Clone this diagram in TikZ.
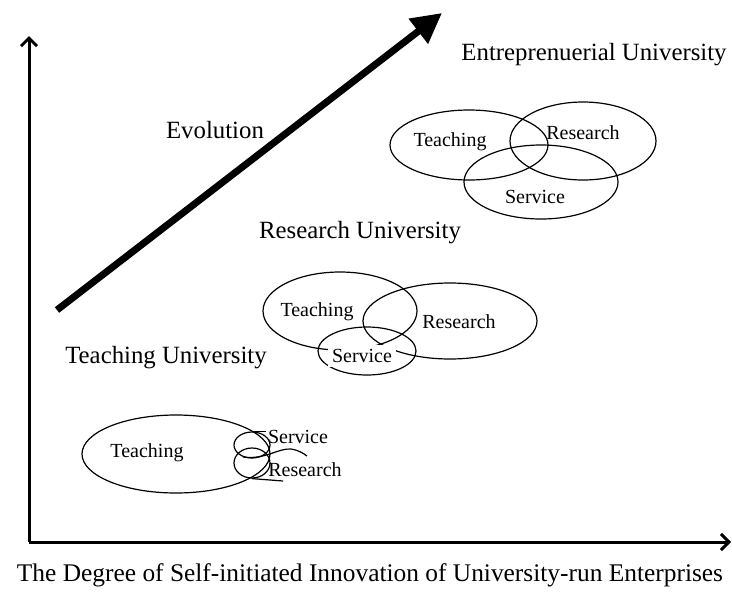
\documentclass[tikz,border=0pt]{standalone}
\usepackage{fontspec}
\setmainfont{Liberation Serif}
\usetikzlibrary{arrows.meta,shapes.geometric,positioning}
\tikzset{
  blob/.style={
    shape = ellipse,
    draw,
    line width = 0.6pt,
    inner sep = 0pt
  },
  tag/.style={
    font = \fontsize{10}{12}\selectfont,
    inner sep = 1pt
  },
  stage/.style={
    font = \fontsize{12.4}{15}\selectfont,
    inner sep = 1pt
  },
  axis/.style={
    line width = 1.5pt,
    -{Straight Barb[length=4pt,width=8pt]}
  },
  evo/.style={
    line width = 3.5pt,
    -{Triangle[length=15pt,width=15pt]}
  }
}

\begin{document}
\begin{tikzpicture}[x=0.5pt,y=-0.5pt]
    \useasboundingbox (0,0) rectangle (732,594);
    % axes
    \coordinate (o) at (29,542);
    \coordinate (ytop) at (29,36);
    \coordinate (xend) at (731,542);
    \draw[axis] (o) -- (ytop);
    \draw[axis] (o) -- (xend);
    \node[stage, font=\fontsize{12.7}{15}\selectfont] (xlab) at (370,575) {The Degree of Self-initiated Innovation of University-run Enterprises};
    % evolution arrow
    \coordinate (evoS) at (57,310);
    \coordinate (evoE) at (442,13);
    \draw[evo] (evoS) -- (evoE);
    \node[stage] (evo) at (215,130) {Evolution};
    % ellipses: name/x/y/rx/ry
    \foreach \nm/\cx/\cy/\rx/\ry in {entT/469/145/79/35, entR/583/141/73/39, entS/541/182/77/37,
        resT/340/311/77/39, resR/450/321/87/38, resS/367/351/49/24,
        tchT/176/454/94/39, tchS/252/445/18/13, tchR/252/463/18/15}{
    \node[blob, minimum width=\rx pt, minimum height=\ry pt] (\nm) at (\cx,\cy) {};}
    % entrepreneurial university
    \node[stage] (entU) at (594,55) {Entreprenuerial University};
    \node[tag] (entTl) at (450,142) {Teaching};
    \node[tag] (entRl) at (583,133) {Research};
    \node[tag] (entSl) at (535,197) {Service};
    % research university
    \node[stage] (resU) at (360,233) {Research University};
    \node[tag] (resTl) at (317,312) {Teaching};
    \node[tag] (resRl) at (459,322) {Research};
    \node[tag, fill=white, inner sep=2pt] (resSl) at (362,356) {Service};
    % teaching university
    \node[stage] (tchU) at (166,358) {Teaching University};
    \node[tag] (tchTl) at (147,453) {Teaching};
    \node[tag] (tchSl) at (298,437) {Service};
    \node[tag] (tchRl) at (305,470) {Research};
    \draw[line width=0.6pt] (tchS.north) -- (tchSl.west |- tchS.north);
    \draw[line width=0.6pt] (tchR.south) -- (283,481);
    \draw[line width=0.6pt] (243,457) .. controls (265,460) and (278,448) .. (291,449) .. controls (298,450) and (303,453) .. (307,456);
\end{tikzpicture}
\end{document}
